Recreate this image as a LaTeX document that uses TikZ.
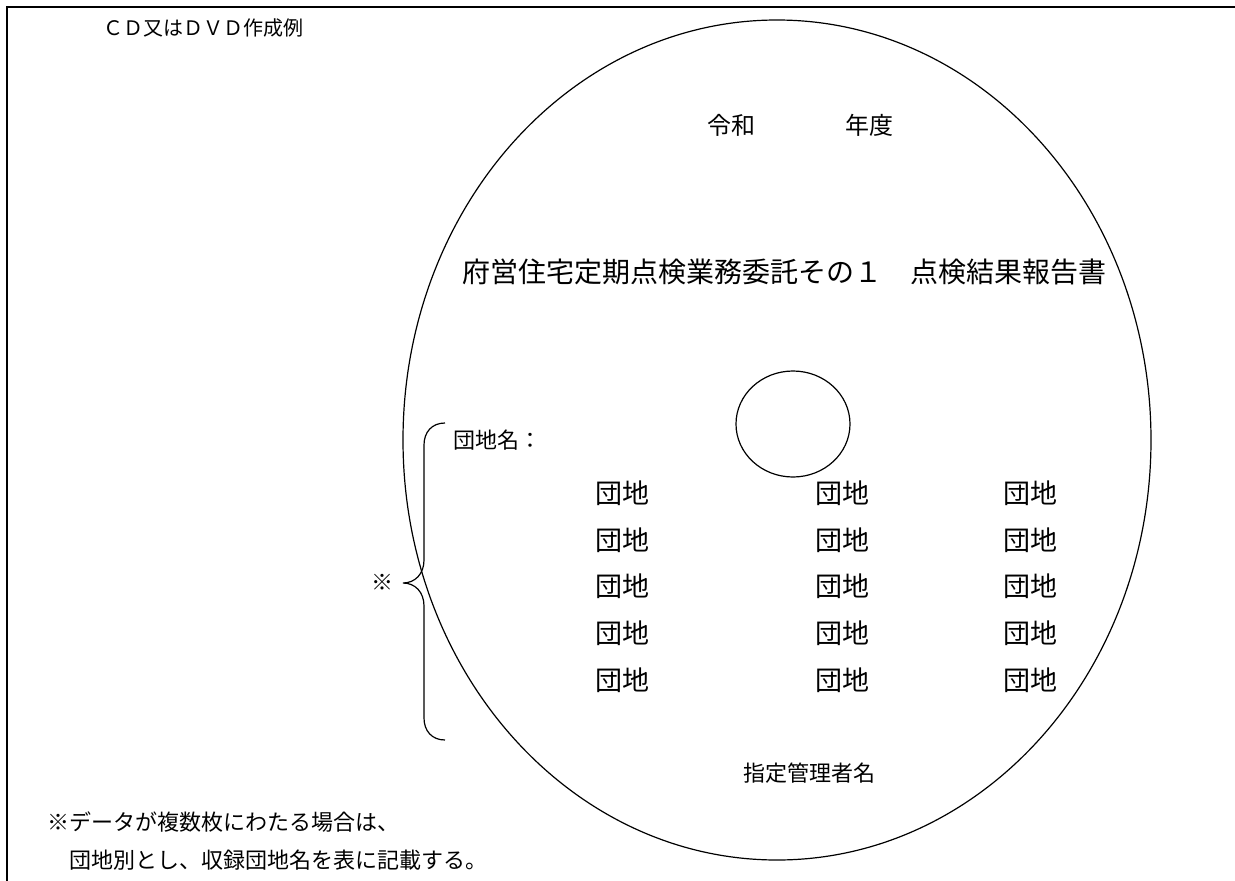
\documentclass[tikz,border=0pt]{standalone}
\usepackage{fontspec}
\setmainfont{Noto Sans CJK JP}
\usetikzlibrary{shapes.geometric}
\begin{document}
\begin{tikzpicture}[x=1pt,y=-1pt,
  txt/.style={anchor=west,inner sep=0pt,font=\fontsize{22}{22}\selectfont},
  big/.style={txt,font=\fontsize{27}{27}\selectfont},
  thin line/.style={line width=1.2pt}]
\useasboundingbox (0,0) rectangle (1235,881);
\coordinate (tl) at (7,7);
\coordinate (tr) at (1235,7);
\coordinate (bl) at (7,881);
\draw[line width=2pt] (tr) -- (tl) -- (bl);
\node[txt,font=\fontsize{20}{20}\selectfont] (title) at (103,28) {ＣＤ又はＤＶＤ作成例};
\node[ellipse,draw,thin line,minimum width=748pt,minimum height=840pt,inner sep=0pt] (disk) at (777,440) {};
\node[ellipse,draw,thin line,minimum width=114pt,minimum height=106pt,inner sep=0pt] (hole) at (793,424) {};
\node[txt,font=\fontsize{24}{24}\selectfont] (reiwa) at (707,125) {令和};
\node[txt,font=\fontsize{24}{24}\selectfont] (nendo) at (845,125) {年度};
\node[big,font=\fontsize{28}{28}\selectfont] (report) at (462,272) {府営住宅定期点検業務委託その１　点検結果報告書};
\node[txt] (dname) at (453,440) {団地名：};
\foreach \r/\y in {1/493,2/540,3/586,4/633,5/680}{
  \foreach \c/\x in {1/595,2/815,3/1003}{
    \node[big] (d\r\c) at (\x,\y) {団地};
  }
}
\node[txt] (mark) at (371,582) {※};
\coordinate (b1) at (445,423);
\coordinate (b2) at (403,583);
\coordinate (b3) at (445,740);
\draw[thin line] (b1) .. controls (432,423) and (424,432) .. (424,445)
  -- (424,560) .. controls (424,574) and (415,583) .. (b2)
  .. controls (415,583) and (424,592) .. (424,606)
  -- (424,718) .. controls (424,731) and (432,740) .. (b3);
\node[txt] (mgr) at (743,773) {指定管理者名};
\node[txt] (note1) at (47,822) {※データが複数枚にわたる場合は、};
\node[txt] (note2) at (47,860) {　団地別とし、収録団地名を表に記載する。};
\end{tikzpicture}
\end{document}
